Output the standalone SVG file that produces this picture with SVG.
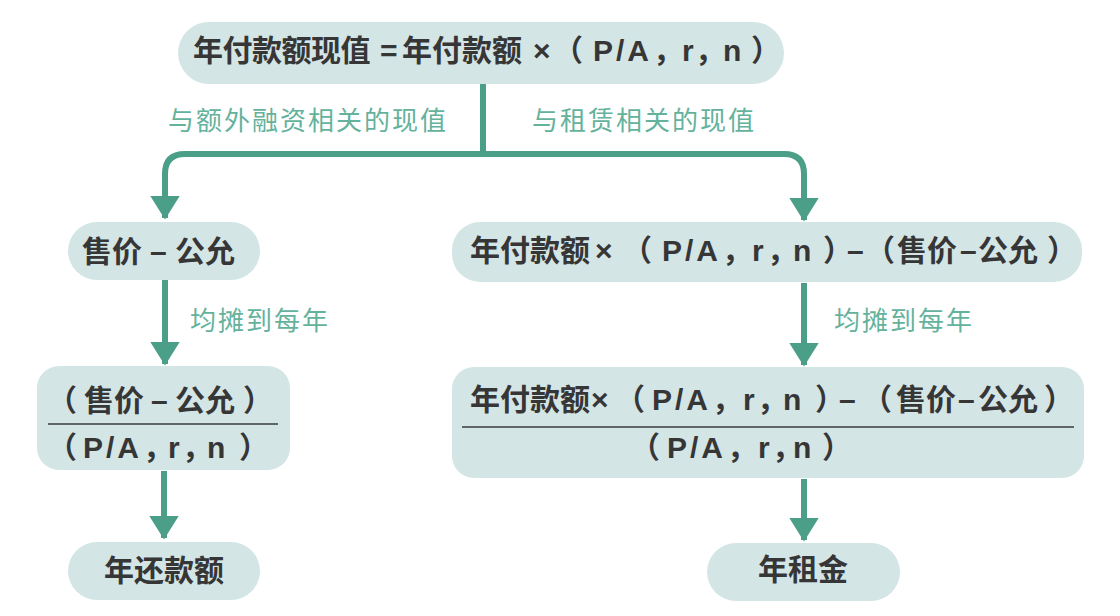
<svg xmlns="http://www.w3.org/2000/svg" width="1120" height="616" viewBox="0 0 1120 616">
<defs>
<style>
.node{fill:#d4e5e6;}
.t{font-family:"Liberation Sans","Noto Sans CJK SC",sans-serif;font-weight:bold;fill:#363636;font-size:30px;font-feature-settings:"halt" 1;}
.l{letter-spacing:3px;}
.lbl{font-family:"Noto Sans CJK SC","Liberation Sans",sans-serif;fill:#64b29c;font-size:26px;letter-spacing:2px;}
.conn{fill:none;stroke:#4b9e87;stroke-width:6;}
.frac{stroke:#3a3a3a;stroke-width:1.6;}
</style>
<marker id="ah" viewBox="0 0 8 10" refX="7.5" refY="5" markerWidth="4" markerHeight="5" orient="auto" markerUnits="strokeWidth">
<path d="M0,0 L8,5 L0,10 Z" fill="#4b9e87"/>
</marker>
</defs>
<rect width="1120" height="616" fill="#ffffff"/>
<g id="connectors">
<path class="conn" d="M483,84 V154"/>
<path class="conn" d="M483,154 H185 Q165,154 165,174 V218" marker-end="url(#ah)"/>
<path class="conn" d="M483,154 H784 Q804,154 804,174 V220" marker-end="url(#ah)"/>
<path class="conn" d="M165,280 V364" marker-end="url(#ah)"/>
<path class="conn" d="M804,283 V365" marker-end="url(#ah)"/>
<path class="conn" d="M164,471 V538" marker-end="url(#ah)"/>
<path class="conn" d="M804,479 V540" marker-end="url(#ah)"/>
</g>
<g id="labels">
<text class="lbl" x="168" y="130">与额外融资相关的现值</text>
<text class="lbl" x="532" y="130">与租赁相关的现值</text>
<text class="lbl" x="190" y="330">均摊到每年</text>
<text class="lbl" x="834" y="330">均摊到每年</text>
</g>
<g id="n-top">
<rect class="node" x="178" y="22" width="606" height="62" rx="31"/>
<text class="t" y="61"><tspan x="193" letter-spacing="-0.5">年付款额现值</tspan><tspan x="380">=</tspan><tspan x="402">年付款额</tspan><tspan x="533">×</tspan><tspan x="568">（</tspan><tspan class="l" x="593">P/A</tspan><tspan x="653">，</tspan><tspan x="682">r</tspan><tspan x="695">，</tspan><tspan x="723">n</tspan><tspan x="751">）</tspan></text>
</g>
<g id="n-left1">
<rect class="node" x="68" y="222" width="192" height="58" rx="29"/>
<text class="t" y="262"><tspan x="82">售价</tspan><tspan x="150">–</tspan><tspan x="175">公允</tspan></text>
</g>
<g id="n-right1">
<rect class="node" x="452" y="222" width="630" height="60" rx="28"/>
<text class="t" y="261"><tspan x="470">年付款额</tspan><tspan x="595">×</tspan><tspan x="637">（</tspan><tspan class="l" x="662">P/A</tspan><tspan x="722">，</tspan><tspan x="752">r</tspan><tspan x="767">，</tspan><tspan x="793">n</tspan><tspan x="823">）</tspan><tspan x="847">–</tspan><tspan x="880">（</tspan><tspan x="897">售价</tspan><tspan x="960">–</tspan><tspan x="978">公允</tspan><tspan x="1047">）</tspan></text>
</g>
<g id="n-left2">
<rect class="node" x="37" y="366" width="253" height="104" rx="22"/>
<text class="t" y="411"><tspan x="62">（</tspan><tspan x="84">售价</tspan><tspan x="151">–</tspan><tspan x="175">公允</tspan><tspan x="243">）</tspan></text>
<line class="frac" x1="48" y1="424" x2="278" y2="424"/>
<text class="t" y="458"><tspan x="62">（</tspan><tspan class="l" x="83">P/A</tspan><tspan x="143">，</tspan><tspan x="168">r</tspan><tspan x="182">，</tspan><tspan x="207">n</tspan><tspan x="239">）</tspan></text>
</g>
<g id="n-right2">
<rect class="node" x="452" y="367" width="632" height="111" rx="22"/>
<text class="t" y="410"><tspan x="470">年付款额</tspan><tspan x="591">×</tspan><tspan x="630">（</tspan><tspan class="l" x="652">P/A</tspan><tspan x="712">，</tspan><tspan x="743">r</tspan><tspan x="757">，</tspan><tspan x="783">n</tspan><tspan x="815">）</tspan><tspan x="839">–</tspan><tspan x="877">（</tspan><tspan x="896">售价</tspan><tspan x="958">–</tspan><tspan x="978">公允</tspan><tspan x="1044">）</tspan></text>
<line class="frac" x1="462" y1="427" x2="1074" y2="427"/>
<text class="t" y="458"><tspan x="645">（</tspan><tspan class="l" x="667">P/A</tspan><tspan x="727">，</tspan><tspan x="758">r</tspan><tspan x="772">，</tspan><tspan x="793">n</tspan><tspan x="822">）</tspan></text>
</g>
<g id="n-left3">
<rect class="node" x="68" y="542" width="192" height="58" rx="29"/>
<text class="t" x="164" y="581" text-anchor="middle">年还款额</text>
</g>
<g id="n-right3">
<rect class="node" x="707" y="543" width="193" height="58" rx="29"/>
<text class="t" x="803" y="580" text-anchor="middle">年租金</text>
</g>
</svg>
